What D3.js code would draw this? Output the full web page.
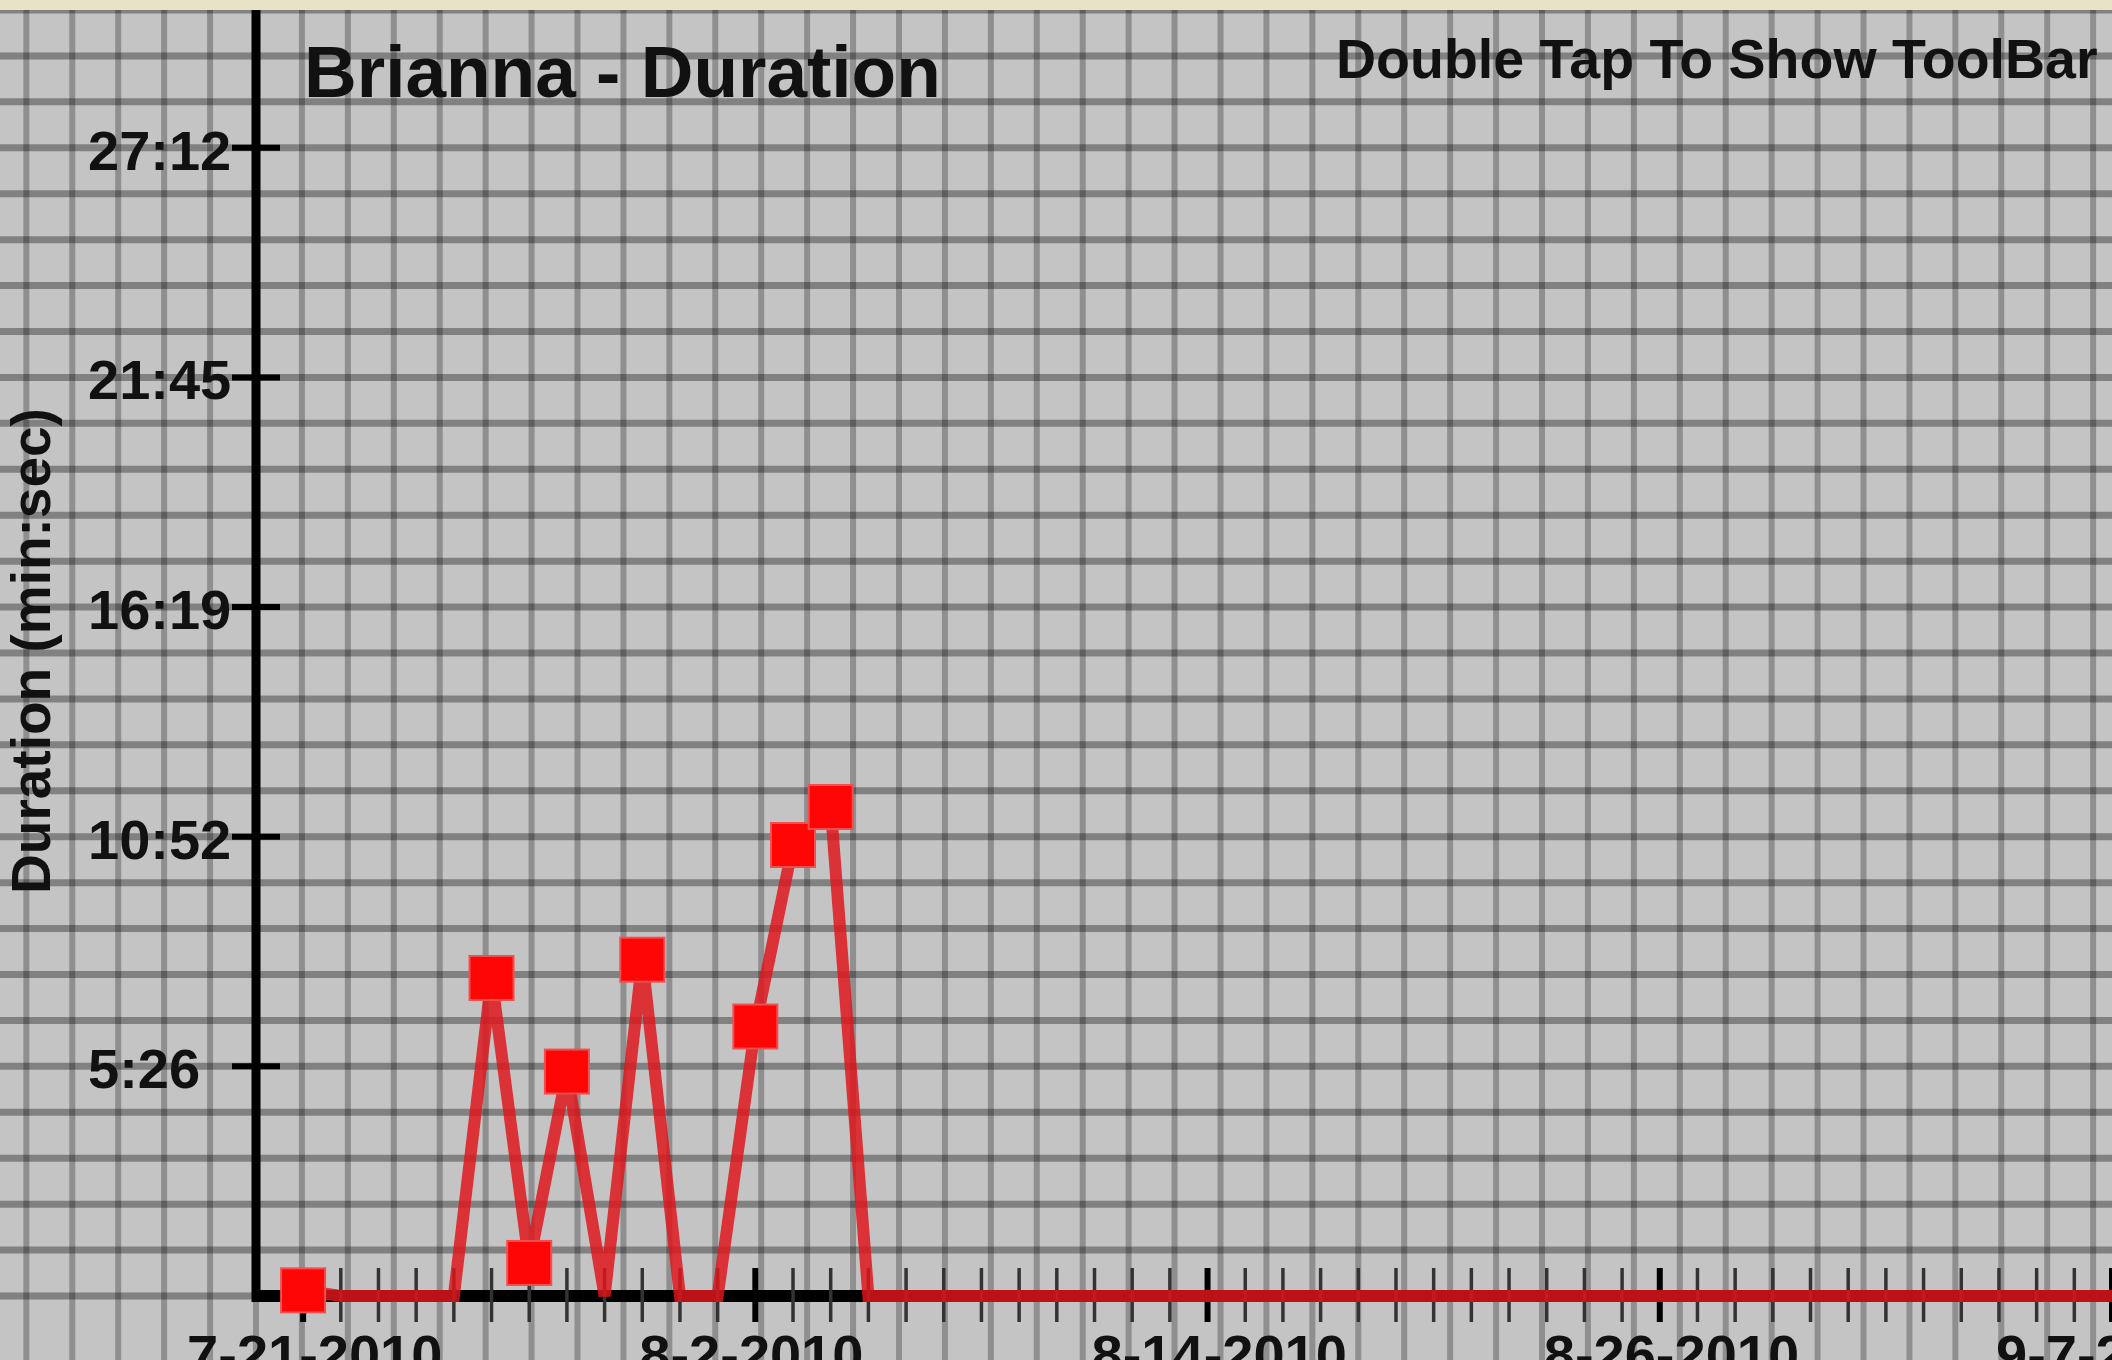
<!DOCTYPE html>
<html>
<head>
<meta charset="utf-8">
<script src="https://cdn.jsdelivr.net/npm/d3@7"></script>
<style>
  html, body { margin: 0; padding: 0; background: #c4c4c4; overflow: hidden; }
  svg { display: block; }
  text { font-family: "Liberation Sans", Arial, Helvetica, sans-serif; font-weight: bold; fill: #111; }
</style>
</head>
<body>
<svg id="chart" width="2112" height="1360"></svg>
<script>
// ---- data ----
const dates = [
  "2010-07-21","2010-07-22","2010-07-23","2010-07-24","2010-07-25","2010-07-26","2010-07-27",
  "2010-07-28","2010-07-29","2010-07-30","2010-07-31","2010-08-01","2010-08-02","2010-08-03",
  "2010-08-04","2010-08-05","2010-08-06","2010-08-07","2010-08-08","2010-08-09","2010-08-10",
  "2010-08-11","2010-08-12","2010-08-13","2010-08-14","2010-08-15","2010-08-16","2010-08-17",
  "2010-08-18","2010-08-19","2010-08-20","2010-08-21","2010-08-22","2010-08-23","2010-08-24",
  "2010-08-25","2010-08-26","2010-08-27","2010-08-28","2010-08-29","2010-08-30","2010-08-31",
  "2010-09-01","2010-09-02","2010-09-03","2010-09-04","2010-09-05","2010-09-06","2010-09-07",
  "2010-09-08"
];
// duration in seconds
const durations = [
  8, 0, 0, 0, 0, 452, 47,
  319, 0, 478, 0, 0, 383, 641,
  695, 0, 0, 0, 0, 0, 0,
  0, 0, 0, 0, 0, 0, 0,
  0, 0, 0, 0, 0, 0, 0,
  0, 0, 0, 0, 0, 0, 0,
  0, 0, 0, 0, 0, 0, 0,
  0
];
const yTickValues = [326.4, 652.8, 979.2, 1305.6, 1632];
const yTickLabels = ["5:26", "10:52", "16:19", "21:45", "27:12"];
const xMajorTicks = ["2010-07-21", "2010-08-02", "2010-08-14", "2010-08-26", "2010-09-07"];
const xMajorLabels = ["7-21-2010", "8-2-2010", "8-14-2010", "8-26-2010", "9-7-2010"];
const titleText = "Brianna - Duration";
const hintText = "Double Tap To Show ToolBar";
const yAxisTitle = "Duration (min:sec)";

// ---- layout ----
const W = 2112, H = 1360;
const topStrip = 10;
const axisX = 256, baseY = 1296;
const yMax = 1632 * 28 / 25;   // axis top value
const gridStepValue = 1632 / 25;

const svg = d3.select("#chart");
const parse = d3.utcParse("%Y-%m-%d");

const x = d3.scaleUtc()
  .domain([Date.UTC(2010, 6, 19, 18), Date.UTC(2010, 8, 7)])
  .range([axisX, W]);
const y = d3.scaleLinear().domain([0, yMax]).range([baseY, topStrip]);

// background
svg.append("rect").attr("x", 0).attr("y", 0).attr("width", W).attr("height", H).attr("fill", "#c4c4c4");

// grid (square graph-paper grid aligned with the value scale)
const step = y(0) - y(gridStepValue);
const grid = svg.append("g");
const vPos = d3.range(-6, 42).map(k => axisX + k * step);
grid.selectAll("line.v").data(vPos).join("line")
  .attr("x1", d => d).attr("x2", d => d)
  .attr("y1", topStrip).attr("y2", H)
  .attr("stroke", "#000").attr("stroke-opacity", 0.27).attr("stroke-width", 6);
const hVals = d3.range(0, 31).map(k => k * gridStepValue);
grid.selectAll("line.h").data(hVals).join("line")
  .attr("x1", 0).attr("x2", W)
  .attr("y1", d => y(d)).attr("y2", d => y(d))
  .attr("stroke", "#000").attr("stroke-opacity", 0.34).attr("stroke-width", 7);
// beige strip on top
svg.append("rect").attr("x", 0).attr("y", 0).attr("width", W).attr("height", topStrip).attr("fill", "#e8e2c6");

// x axis line
svg.append("line").attr("x1", axisX - 4).attr("x2", W)
  .attr("y1", baseY).attr("y2", baseY)
  .attr("stroke", "#000").attr("stroke-width", 12);

// day ticks
const days = d3.utcDay.range(parse("2010-07-21"), parse("2010-09-09"));
const majorSet = new Set(xMajorTicks);
const fmtKey = d3.utcFormat("%Y-%m-%d");
svg.append("g").selectAll("line").data(days).join("line")
  .attr("x1", d => x(d)).attr("x2", d => x(d))
  .attr("y1", baseY - 28).attr("y2", baseY + 26)
  .attr("stroke", d => majorSet.has(fmtKey(d)) ? "#000" : "#333")
  .attr("stroke-width", d => majorSet.has(fmtKey(d)) ? 6 : 3.5);

// y axis line
svg.append("line").attr("x1", axisX).attr("x2", axisX)
  .attr("y1", topStrip).attr("y2", baseY + 6)
  .attr("stroke", "#000").attr("stroke-width", 9);

// y ticks
svg.append("g").selectAll("line").data(yTickValues).join("line")
  .attr("x1", axisX - 24).attr("x2", axisX + 24)
  .attr("y1", d => y(d)).attr("y2", d => y(d))
  .attr("stroke", "#000").attr("stroke-width", 6);

// y tick labels
svg.append("g").selectAll("text").data(yTickValues).join("text")
  .attr("x", 88).attr("y", d => y(d) + 22)
  .attr("font-size", 56)
  .text((d, i) => yTickLabels[i]);

// x labels
svg.append("g").selectAll("text").data(xMajorTicks).join("text")
  .attr("x", d => x(parse(d)) - 116).attr("y", 1374)
  .attr("font-size", 56)
  .text((d, i) => xMajorLabels[i]);

// data line
const pts = dates.map((d, i) => ({ date: parse(d), v: durations[i] }));
const line = d3.line().x(d => x(d.date)).y(d => y(d.v));
svg.append("path").datum(pts)
  .attr("d", line)
  .attr("fill", "none")
  .attr("stroke", "rgb(222,22,26)")
  .attr("stroke-opacity", 0.84)
  .attr("stroke-width", 12)
  .attr("stroke-linejoin", "miter")
  .attr("stroke-miterlimit", 2);

// markers (non-zero points)
const ms = 44;
svg.append("g").selectAll("rect").data(pts.filter(p => p.v > 0)).join("rect")
  .attr("x", d => x(d.date) - ms / 2).attr("y", d => y(d.v) - ms / 2)
  .attr("width", ms).attr("height", ms)
  .attr("fill", "#ff0606")
  .attr("stroke", "#f05050").attr("stroke-width", 2);

// titles
svg.append("text").attr("x", 304).attr("y", 97).attr("font-size", 73).text(titleText);
svg.append("text").attr("x", 1336).attr("y", 78).attr("font-size", 55.5).text(hintText);
svg.append("text")
  .attr("transform", "translate(50,651) rotate(-90)")
  .attr("text-anchor", "middle")
  .attr("font-size", 55)
  .text(yAxisTitle);
</script>
</body>
</html>
